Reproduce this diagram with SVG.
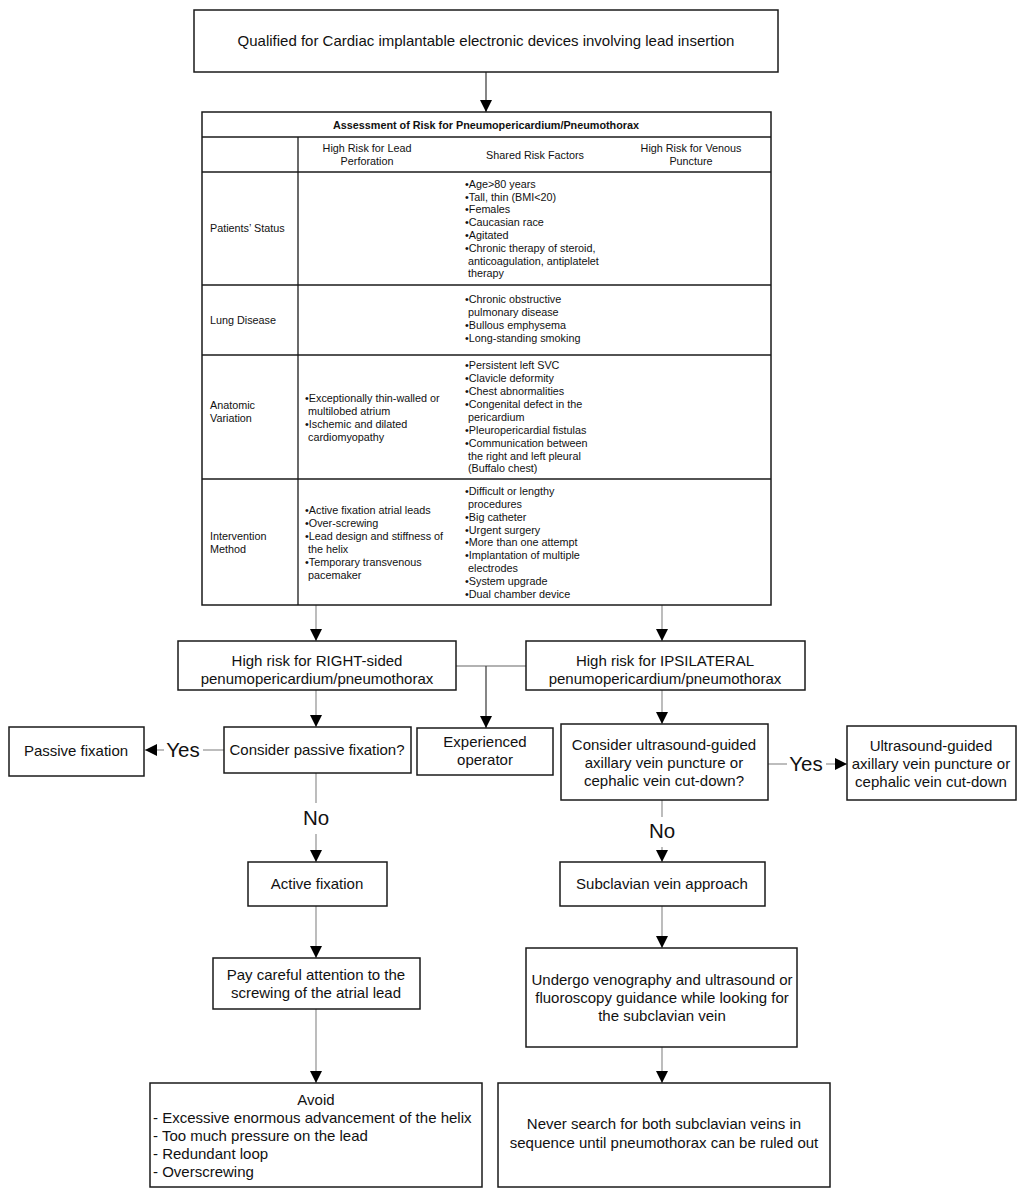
<svg xmlns="http://www.w3.org/2000/svg" width="1021" height="1194" viewBox="0 0 1021 1194">
<style>
text{font-family:"Liberation Sans",Arial,sans-serif;fill:#111}
.box{fill:#fff;stroke:#1a1a1a;stroke-width:1.5}
.t{font-size:15px}
.c{text-anchor:middle}
.s{font-size:10.8px}
.b{font-weight:bold}
.lab{font-size:20.5px}
.ln{stroke:#999;stroke-width:1.3;fill:none}
.dk{stroke:#444}
.tl{stroke:#1a1a1a;stroke-width:1.3;fill:none}
</style>
<defs>
<marker id="ah" markerUnits="userSpaceOnUse" markerWidth="12" markerHeight="12" refX="10" refY="5" orient="auto" viewBox="0 0 10 10">
<path d="M0,0 L10,5 L0,10 z" fill="#000"/>
</marker>
</defs>
<rect width="1021" height="1194" fill="#fff"/>

<g id="connectors">
<line class="ln dk" x1="486" y1="72" x2="486" y2="112" marker-end="url(#ah)"/>
<line class="ln" x1="316" y1="605" x2="316" y2="641" marker-end="url(#ah)"/>
<line class="ln" x1="662" y1="605" x2="662" y2="641" marker-end="url(#ah)"/>
<line class="ln" x1="456" y1="666" x2="526" y2="666"/>
<line class="ln dk" x1="486" y1="666" x2="486" y2="728" marker-end="url(#ah)"/>
<line class="ln" x1="316" y1="690" x2="316" y2="727" marker-end="url(#ah)"/>
<line class="ln" x1="662" y1="690" x2="662" y2="724" marker-end="url(#ah)"/>
<line class="ln" x1="224" y1="750" x2="203" y2="750"/>
<line class="ln" x1="164" y1="750" x2="145" y2="750" marker-end="url(#ah)"/>
<text class="lab c" x="183" y="757">Yes</text>
<line class="ln" x1="768" y1="764" x2="787" y2="764"/>
<line class="ln" x1="826" y1="764" x2="847" y2="764" marker-end="url(#ah)"/>
<text class="lab c" x="806" y="771">Yes</text>
<line class="ln" x1="316" y1="773" x2="316" y2="803"/>
<text class="lab c" x="316" y="825">No</text>
<line class="ln" x1="316" y1="834" x2="316" y2="862" marker-end="url(#ah)"/>
<line class="ln" x1="662" y1="800" x2="662" y2="817"/>
<text class="lab c" x="662" y="838">No</text>
<line class="ln" x1="662" y1="847" x2="662" y2="862" marker-end="url(#ah)"/>
<line class="ln" x1="316" y1="906" x2="316" y2="958" marker-end="url(#ah)"/>
<line class="ln" x1="316" y1="1009" x2="316" y2="1083" marker-end="url(#ah)"/>
<line class="ln" x1="662" y1="906" x2="662" y2="948" marker-end="url(#ah)"/>
<line class="ln" x1="662" y1="1047" x2="662" y2="1083" marker-end="url(#ah)"/>
</g>

<g id="n-start">
<rect class="box" x="194" y="10" width="584" height="62"/>
<text class="t c" x="486" y="46">Qualified for Cardiac implantable electronic devices involving lead insertion</text>
</g>

<g id="n-table">
<rect class="box" x="202" y="112" width="569" height="493"/>
<line class="tl" x1="202" y1="137" x2="771" y2="137"/>
<line class="tl" x1="202" y1="172" x2="771" y2="172"/>
<line class="tl" x1="202" y1="285" x2="771" y2="285"/>
<line class="tl" x1="202" y1="355" x2="771" y2="355"/>
<line class="tl" x1="202" y1="479" x2="771" y2="479"/>
<line class="tl" x1="298" y1="137" x2="298" y2="605"/>
<text class="s b c" x="486" y="129">Assessment of Risk for Pneumopericardium/Pneumothorax</text>
<text class="s c" x="367" y="152">High Risk for Lead</text>
<text class="s c" x="367" y="165">Perforation</text>
<text class="s c" x="535" y="159">Shared Risk Factors</text>
<text class="s c" x="691" y="152">High Risk for Venous</text>
<text class="s c" x="691" y="165">Puncture</text>
<text class="s" x="210" y="232">Patients’ Status</text>
<text class="s" x="210" y="324">Lung Disease</text>
<text class="s" x="210" y="409">Anatomic</text>
<text class="s" x="210" y="422">Variation</text>
<text class="s" x="210" y="540">Intervention</text>
<text class="s" x="210" y="553">Method</text>
<text class="s" x="465" y="188">•Age&gt;80 years</text>
<text class="s" x="465" y="201">•Tall, thin (BMI&lt;20)</text>
<text class="s" x="465" y="213">•Females</text>
<text class="s" x="465" y="226">•Caucasian race</text>
<text class="s" x="465" y="239">•Agitated</text>
<text class="s" x="465" y="252">•Chronic therapy of steroid,</text>
<text class="s" x="468" y="265">anticoagulation, antiplatelet</text>
<text class="s" x="468" y="277">therapy</text>
<text class="s" x="465" y="303">•Chronic obstructive</text>
<text class="s" x="468" y="316">pulmonary disease</text>
<text class="s" x="465" y="329">•Bullous emphysema</text>
<text class="s" x="465" y="342">•Long-standing smoking</text>
<text class="s" x="465" y="369">•Persistent left SVC</text>
<text class="s" x="465" y="382">•Clavicle deformity</text>
<text class="s" x="465" y="395">•Chest abnormalities</text>
<text class="s" x="465" y="408">•Congenital defect in the</text>
<text class="s" x="468" y="421">pericardium</text>
<text class="s" x="465" y="434">•Pleuropericardial fistulas</text>
<text class="s" x="465" y="447">•Communication between</text>
<text class="s" x="468" y="460">the right and left pleural</text>
<text class="s" x="468" y="472">(Buffalo chest)</text>
<text class="s" x="305" y="402">•Exceptionally thin-walled or</text>
<text class="s" x="308" y="415">multilobed atrium</text>
<text class="s" x="305" y="428">•Ischemic and dilated</text>
<text class="s" x="308" y="441">cardiomyopathy</text>
<text class="s" x="465" y="495">•Difficult or lengthy</text>
<text class="s" x="468" y="508">procedures</text>
<text class="s" x="465" y="521">•Big catheter</text>
<text class="s" x="465" y="534">•Urgent surgery</text>
<text class="s" x="465" y="546">•More than one attempt</text>
<text class="s" x="465" y="559">•Implantation of multiple</text>
<text class="s" x="468" y="572">electrodes</text>
<text class="s" x="465" y="585">•System upgrade</text>
<text class="s" x="465" y="598">•Dual chamber device</text>
<text class="s" x="305" y="514">•Active fixation atrial leads</text>
<text class="s" x="305" y="527">•Over-screwing</text>
<text class="s" x="305" y="540">•Lead design and stiffness of</text>
<text class="s" x="308" y="553">the helix</text>
<text class="s" x="305" y="566">•Temporary transvenous</text>
<text class="s" x="308" y="579">pacemaker</text>
</g>

<g id="n-right-sided">
<rect class="box" x="178" y="641" width="278" height="49"/>
<text class="t c" x="317" y="666">High risk for RIGHT-sided</text>
<text class="t c" x="317" y="684">penumopericardium/pneumothorax</text>
</g>
<g id="n-ipsilateral">
<rect class="box" x="526" y="641" width="279" height="49"/>
<text class="t c" x="665" y="666">High risk for IPSILATERAL</text>
<text class="t c" x="665" y="684">penumopericardium/pneumothorax</text>
</g>
<g id="n-passive-q">
<rect class="box" x="224" y="727" width="187" height="46"/>
<text class="t c" x="317" y="755">Consider passive fixation?</text>
</g>
<g id="n-passive">
<rect class="box" x="9" y="727" width="135" height="49"/>
<text class="t c" x="76" y="756">Passive fixation</text>
</g>
<g id="n-experienced">
<rect class="box" x="417" y="728" width="136" height="47"/>
<text class="t c" x="485" y="747">Experienced</text>
<text class="t c" x="485" y="765">operator</text>
</g>
<g id="n-ultra-q">
<rect class="box" x="561" y="724" width="207" height="76"/>
<text class="t c" x="664" y="750">Consider ultrasound-guided</text>
<text class="t c" x="664" y="768">axillary vein puncture or</text>
<text class="t c" x="664" y="786">cephalic vein cut-down?</text>
</g>
<g id="n-ultra">
<rect class="box" x="847" y="726" width="169" height="74"/>
<text class="t c" x="931" y="751">Ultrasound-guided</text>
<text class="t c" x="931" y="769">axillary vein puncture or</text>
<text class="t c" x="931" y="787">cephalic vein cut-down</text>
</g>
<g id="n-active">
<rect class="box" x="248" y="862" width="139" height="44"/>
<text class="t c" x="317" y="889">Active fixation</text>
</g>
<g id="n-careful">
<rect class="box" x="213" y="958" width="207" height="51"/>
<text class="t c" x="316" y="980">Pay careful attention to the</text>
<text class="t c" x="316" y="998">screwing of the atrial lead</text>
</g>
<g id="n-avoid">
<rect class="box" x="150" y="1083" width="332" height="104"/>
<text class="t c" x="316" y="1105">Avoid</text>
<text class="t" x="153" y="1123">- Excessive enormous advancement of the helix</text>
<text class="t" x="153" y="1141">- Too much pressure on the lead</text>
<text class="t" x="153" y="1159">- Redundant loop</text>
<text class="t" x="153" y="1177">- Overscrewing</text>
</g>
<g id="n-subclavian">
<rect class="box" x="560" y="862" width="205" height="44"/>
<text class="t c" x="662" y="889">Subclavian vein approach</text>
</g>
<g id="n-venography">
<rect class="box" x="526" y="948" width="271" height="99"/>
<text class="t c" x="662" y="985">Undergo venography and ultrasound or</text>
<text class="t c" x="662" y="1003">fluoroscopy guidance while looking for</text>
<text class="t c" x="662" y="1021">the subclavian vein</text>
</g>
<g id="n-never">
<rect class="box" x="498" y="1083" width="332" height="104"/>
<text class="t c" x="664" y="1129">Never search for both subclavian veins in</text>
<text class="t c" x="664" y="1148">sequence until pneumothorax can be ruled out</text>
</g>
</svg>
